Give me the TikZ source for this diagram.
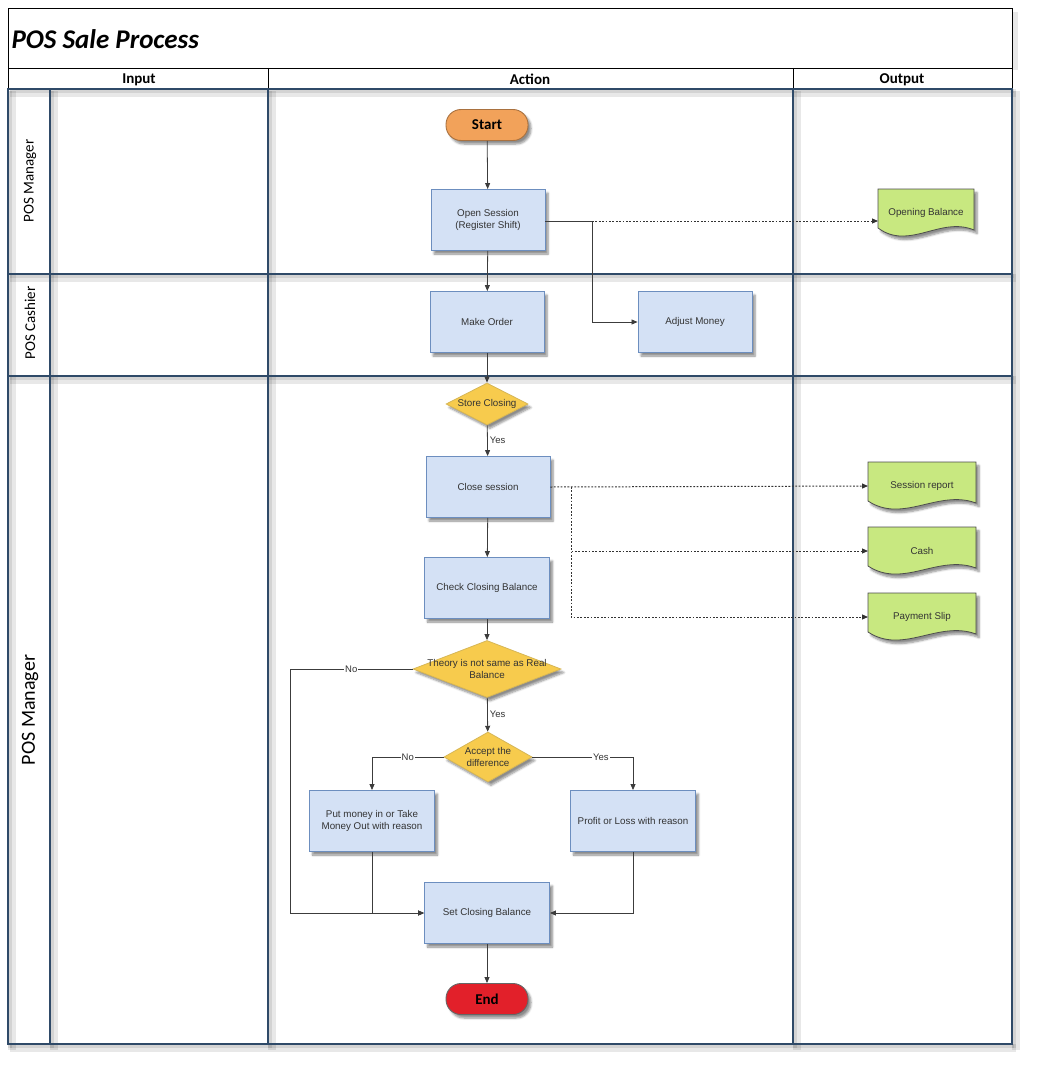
\documentclass[tikz,border=0pt]{standalone}
\usepackage{fontspec}
\setmainfont{Liberation Sans}
\newfontfamily\calibri{Carlito}
\usetikzlibrary{arrows.meta,shapes.geometric,shadows.blur}

\definecolor{lanecol}{HTML}{2F4A68}
\definecolor{boxfill}{HTML}{D4E1F5}
\definecolor{boxdraw}{HTML}{6C8EBF}
\definecolor{decfill}{HTML}{F7CB4D}
\definecolor{decdraw}{HTML}{D6B656}
\definecolor{docfill}{HTML}{C8E880}
\definecolor{docdraw}{HTML}{4D4D4D}
\definecolor{startfill}{HTML}{F2A25A}
\definecolor{endfill}{HTML}{E2202A}
\definecolor{linecol}{HTML}{3C3C3C}
\definecolor{txtcol}{HTML}{333333}

\tikzset{
  myshadow/.style={blur shadow={shadow xshift=3pt, shadow yshift=-3.5pt,
      shadow blur steps=6, shadow opacity=45}},
  process/.style={rectangle, fill=boxfill, draw=boxdraw, line width=0.9pt,
      minimum height=61, align=center, text=txtcol,
      font=\fontsize{9.8}{11.5}\selectfont, myshadow},
  decision/.style={diamond, fill=decfill, draw=decdraw, line width=0.8pt,
      inner sep=0pt, myshadow},
  dtext/.style={align=center, text=txtcol, font=\fontsize{9.8}{11.5}\selectfont},
  term/.style={rectangle, rounded corners=15pt, minimum width=82, minimum height=31,
      line width=0.9pt, font=\calibri\bfseries\fontsize{15}{17}\selectfont, myshadow},
  docshape/.style={fill=docfill, draw=docdraw, line width=0.8pt, myshadow},
  doctxt/.style={text=txtcol, font=\fontsize{9.8}{11.5}\selectfont, inner sep=0pt},
  flow/.style={draw=linecol, line width=0.8pt, -{Triangle[length=6pt,width=5pt]}},
  outflow/.style={flow, draw=black!80, line width=1pt, dash pattern=on 1.8pt off 1.6pt},
  lbl/.style={fill=white, inner sep=1pt, text=txtcol, font=\fontsize{9.5}{10}\selectfont},
  lane/.style={draw=lanecol, line width=2.8pt},
  laneshadow/.style={draw=black, opacity=0.09, line width=6pt},
  headtxt/.style={font=\calibri\bfseries\fontsize{15}{17}\selectfont},
  lanetxt/.style={rotate=90, font=\calibri\fontsize{15}{17}\selectfont},
}

\begin{document}
\begin{tikzpicture}[x=1pt, y=-1pt]
  \useasboundingbox (0,0) rectangle (1037,1070);

  %title and header
  \draw[laneshadow] (1015,12) -- (1015,70);
  \draw[line width=0.8pt] (8,8) rectangle (1012,68);
  \node[anchor=west, font=\calibri\bfseries\itshape\fontsize{27}{30}\selectfont]
    (title) at (8,39) {POS Sale Process};
  \draw[line width=0.8pt] (8,68) rectangle (1012,89);
  \foreach \x in {268,793}
      \draw[line width=0.8pt] (\x,68) -- (\x,89);
  \node[headtxt] (hinput) at (139,79.5) {Input};
  \node[headtxt] (haction) at (530,79.5) {Action};
  \node[headtxt] (houtput) at (902,79.5) {Output};

  %lanes
  \foreach \s in {2,4}{
    \foreach \x in {8,50,268,793,1012}
        \draw[laneshadow, line width=2*\s pt] (\x+\s,91) -- (\x+\s,1046+\s);
    \foreach \y in {89,274,376,1044}
        \draw[laneshadow, line width=2*\s pt] (10,\y+\s) -- (1012+\s,\y+\s);
  }
  \draw[lane] (8,89) rectangle (1012,1044);
  \foreach \x in {50,268,793}
      \draw[lane] (\x,89) -- (\x,1044);
  \foreach \y in {274,376}
      \draw[lane] (8,\y) -- (1012,\y);
  \node[lanetxt] (mgrtop) at (30,181) {POS Manager};
  \node[lanetxt] (cashier) at (30,323) {POS Cashier};
  \node[lanetxt, font=\calibri\fontsize{20}{22}\selectfont] (mgrbot) at (30,710) {POS Manager};

  %action nodes
  \node[term, fill=startfill, draw=startfill!70!black] (start) at (487,125) {Start};
  \node[process, minimum width=114] (open) at (488,220) {Open Session\\(Register Shift)};
  \node[process, minimum width=114] (order) at (487,322) {Make Order};
  \node[process, minimum width=114] (adjust) at (695,322) {Adjust Money};
  \node[decision, minimum width=82, minimum height=42,
    label={[dtext]center:Store Closing}] (store) at (487,404) {};
  \node[process, minimum width=124] (close) at (488,487) {Close session};
  \node[process, minimum width=125] (check) at (487,588) {Check Closing Balance};
  \node[decision, minimum width=148, minimum height=57,
    label={[dtext]center:Theory is not same as Real\\Balance}] (theory) at (487,669) {};
  \node[decision, minimum width=88, minimum height=50,
    label={[dtext]center:Accept the\\difference}] (accept) at (488,757) {};
  \node[process, minimum width=125] (putmoney) at (372,821) {Put money in or Take\\Money Out with reason};
  \node[process, minimum width=125] (profit) at (633,821) {Profit or Loss with reason};
  \node[process, minimum width=125] (setbal) at (487,913) {Set Closing Balance};
  \node[term, fill=endfill, draw=black!60] (end) at (487,999) {End};

  %output documents
  \foreach \n/\x/\y/\w/\t in {openbal/926/213/48/Opening Balance,
      sessrep/922/486/54/Session report, cash/922/551/54/Cash,
      payslip/922/617/54/Payment Slip}{
    \draw[docshape] (\x-\w,\y-24) -- (\x+\w,\y-24) -- (\x+\w,\y+17)
      .. controls (\x+0.3*\w,\y+3) and (\x-0.35*\w,\y+38) .. (\x-\w,\y+15) -- cycle;
    \node[doctxt] (\n) at (\x,\y) {\t};
    \coordinate (edge-\n) at (\x-\w,\y);
  }

  %connectors
  \coordinate (split1) at (592,221);
  \coordinate (split2) at (571,487);
  \coordinate (noleft) at (290,669);
  \draw[flow] (start) -- (open);
  \draw[flow] (open) -- (order);
  \draw[draw=linecol, line width=0.8pt] (open.east |- split1) -- (split1);
  \draw[flow] (split1) |- (adjust.west);
  \draw[outflow] (split1) -- (edge-openbal |- split1);
  \draw[flow] (order) -- (store);
  \draw[flow] (store) -- node[lbl, anchor=west, xshift=1pt] (yes1) {Yes} (close);
  \draw[outflow] (close.east) -- (edge-sessrep);
  \draw[outflow] (split2) |- (edge-cash);
  \draw[outflow] (split2) |- (edge-payslip);
  \draw[flow] (close) -- (check);
  \draw[flow] (check) -- (theory);
  \draw[flow] (theory.west) -- node[lbl] (no1) {No} (noleft) |- (setbal.west);
  \draw[flow] (theory) -- node[lbl, anchor=west, xshift=1pt] (yes2) {Yes} (accept);
  \draw[flow] (accept.west) -| node[lbl, pos=0.25] (no2) {No} (putmoney.north);
  \draw[flow] (accept.east) -| node[lbl, pos=0.34] (yes3) {Yes} (profit.north);
  \draw[flow] (putmoney.south) |- (setbal.west);
  \draw[flow] (profit.south) |- (setbal.east);
  \draw[flow] (setbal) -- (end);
\end{tikzpicture}
\end{document}
